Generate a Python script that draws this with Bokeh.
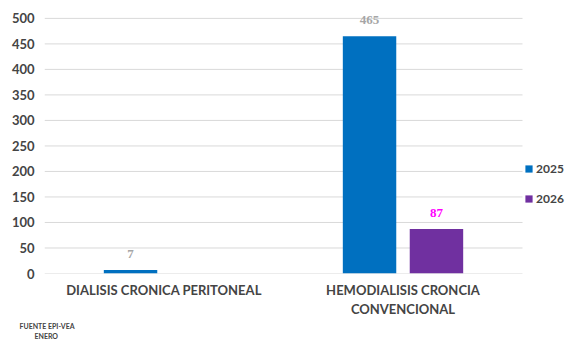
from bokeh.plotting import figure
from bokeh.models import (ColumnDataSource, Range1d, FixedTicker, Legend, LegendItem, LabelSet, Title)
from bokeh.embed import file_html
from bokeh.resources import INLINE

categories = ["DIALISIS CRONICA PERITONEAL", "HEMODIALISIS CRONCIA\nCONVENCIONAL"]
series_names = ["2025", "2026"]
values_2025 = [7, 465]
values_2026 = [0, 87]
y_ticks = [0, 50, 100, 150, 200, 250, 300, 350, 400, 450, 500]
footnote = ["FUENTE EPI-VEA", "ENERO"]

FONT = "Lato"
C25 = "#0070C0"
C26 = "#7030A0"
GRID = "#D9D9D9"

n = len(categories)
xc = [i + 0.5 for i in range(n)]
off = 0.140
bw = 0.2236

W, H = 568, 339
LEFT, TOP, BOTTOM = 44, 2, 64
cat_px = 239
frame_w = W - LEFT
frame_h = H - TOP - BOTTOM
y_top = y_ticks[-1] * frame_h / (frame_h - 16)

p = figure(width=W, height=H, output_backend="svg", toolbar_location=None,
           x_range=Range1d(0, frame_w / cat_px), y_range=Range1d(0, y_top),
           min_border_left=LEFT, min_border_right=0, min_border_top=TOP, min_border_bottom=BOTTOM)
p.outline_line_color = None
p.xgrid.grid_line_color = None
p.ygrid.grid_line_color = None

# horizontal gridlines limited to the category area
p.segment(x0=[0] * len(y_ticks), x1=[n] * len(y_ticks), y0=y_ticks, y1=y_ticks,
          line_color=GRID, line_width=1)

src25 = ColumnDataSource(dict(x=[x - off for x in xc], top=values_2025,
                              lab=[str(v) for v in values_2025]))
src26 = ColumnDataSource(dict(x=[x + off for x, v in zip(xc, values_2026) if v > 0],
                              top=[v for v in values_2026 if v > 0],
                              lab=[str(v) for v in values_2026 if v > 0]))

r25 = p.vbar(x="x", top="top", width=bw, bottom=0, source=src25, fill_color=C25, line_color=None)
r26 = p.vbar(x="x", top="top", width=bw, bottom=0, source=src26, fill_color=C26, line_color=None)

p.add_layout(LabelSet(x="x", y="top", text="lab", source=src25, text_align="center",
                      text_baseline="middle", y_offset=16, text_font=FONT,
                      text_font_style="bold", text_font_size="13px", text_color="#A6A6A6"))
p.add_layout(LabelSet(x="x", y="top", text="lab", source=src26, text_align="center",
                      text_baseline="middle", y_offset=16, text_font=FONT,
                      text_font_style="bold", text_font_size="13px", text_color="#FF00FF"))

# axes
p.yaxis.ticker = FixedTicker(ticks=y_ticks)
p.yaxis.axis_line_color = None
p.yaxis.major_tick_line_color = None
p.yaxis.minor_tick_line_color = None
p.yaxis.major_label_text_font = FONT
p.yaxis.major_label_text_font_style = "bold"
p.yaxis.major_label_text_font_size = "13px"
p.yaxis.major_label_standoff = 4

p.xaxis.ticker = FixedTicker(ticks=xc)
p.xaxis.major_label_overrides = {x: c for x, c in zip(xc, categories)}
p.xaxis.axis_line_color = None
p.xaxis.major_tick_line_color = None
p.xaxis.minor_tick_line_color = None
p.xaxis.major_tick_out = 0
p.xaxis.major_tick_in = 0
p.xaxis.major_label_text_font = FONT
p.xaxis.major_label_text_font_style = "bold"
p.xaxis.major_label_text_font_size = "13px"
p.xaxis.major_label_standoff = 8

legend = Legend(items=[LegendItem(label=series_names[0], renderers=[r25]),
                       LegendItem(label=series_names[1], renderers=[r26])],
                location=(480, 67), orientation="vertical",
                glyph_width=9, glyph_height=9, label_height=9, spacing=15,
                padding=0, margin=0, border_line_color=None, background_fill_alpha=0,
                label_text_font=FONT, label_text_font_style="bold", label_text_font_size="12px",
                label_standoff=3)
p.add_layout(legend)

p.add_layout(Title(text=footnote[0], align="left", offset=-25, standoff=0,
                   text_font=FONT, text_font_style="bold", text_font_size="7px"), "below")
p.add_layout(Title(text=footnote[1], align="left", offset=-10, standoff=0,
                   text_font=FONT, text_font_style="bold", text_font_size="7px"), "below")

open("out.html", "w").write(file_html(p, INLINE))
